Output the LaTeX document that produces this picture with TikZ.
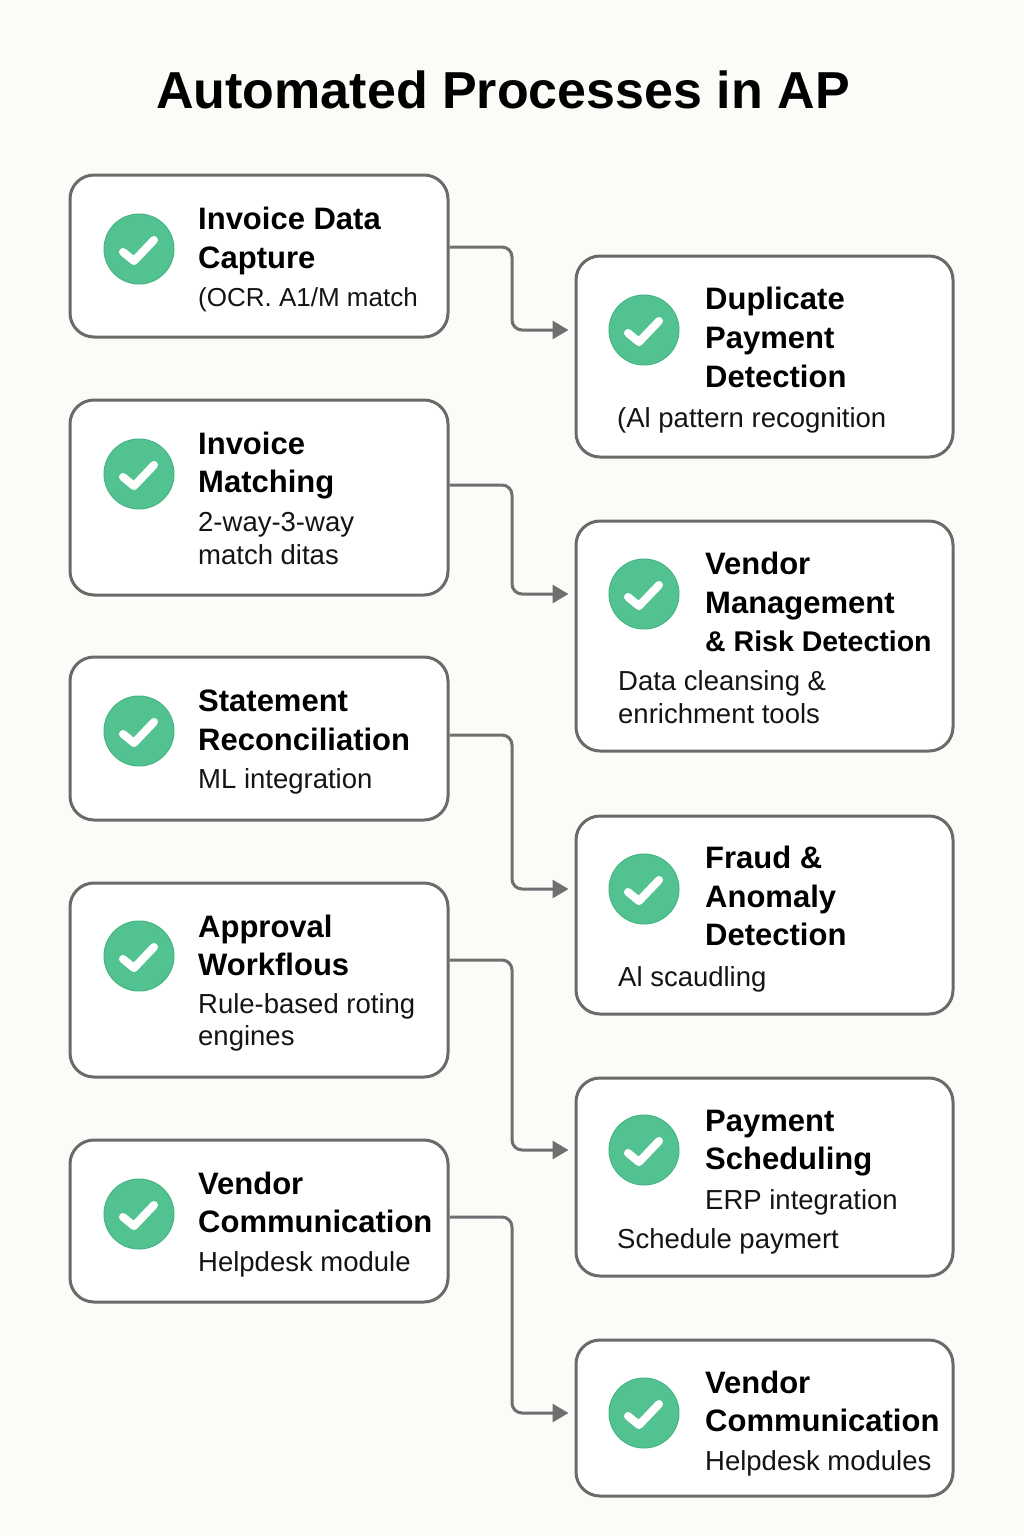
\documentclass[tikz,border=0pt]{standalone}
\usepackage{fontspec}
\setmainfont{Liberation Sans}
\usetikzlibrary{arrows.meta,calc}
\definecolor{bgc}{HTML}{FCFBF7}
\definecolor{boxline}{HTML}{6A6A6A}
\definecolor{connc}{HTML}{6E6F71}
\definecolor{chk}{HTML}{52C290}
\definecolor{chkb}{HTML}{45B583}
\tikzset{
  pbox/.style={draw=boxline, line width=3pt, fill=white, rounded corners=24pt, inner sep=0pt},
  chkc/.style={circle, fill=chk, draw=chkb, line width=1pt, minimum size=70pt, inner sep=0pt},
  ttl/.style={anchor=base west, inner sep=0pt, font=\bfseries\fontsize{31}{37}\selectfont, text=black},
  sub/.style={anchor=base west, inner sep=0pt, font=\fontsize{27.5}{32}\selectfont, text=black!92},
  conn/.style={draw=connc, line width=3pt, rounded corners=10pt, -{Triangle[length=16pt,width=18pt]}, shorten >=6pt},
}
\newcommand{\tick}[1]{\draw[white, line width=8pt, line cap=round, line join=round] ($(#1)+(-16pt,-3pt)$) -- ($(#1)+(-5pt,-12pt)$) -- ($(#1)+(15pt,9pt)$);}
\begin{document}
\begin{tikzpicture}[x=1pt,y=-1pt]
\fill[bgc] (0,0) rectangle (1024,1536);
\useasboundingbox (0,0) rectangle (1024,1536);

\node[anchor=base, inner sep=0pt, font=\bfseries\fontsize{52}{60}\selectfont] (title) at (503,109) {Automated Processes in AP};

% left boxes
\node[pbox, minimum width=378pt, minimum height=162pt] (L1) at (259,256) {};
\node[pbox, minimum width=378pt, minimum height=195pt] (L2) at (259,497.5) {};
\node[pbox, minimum width=378pt, minimum height=163pt] (L3) at (259,738.5) {};
\node[pbox, minimum width=378pt, minimum height=194pt] (L4) at (259,980) {};
\node[pbox, minimum width=378pt, minimum height=162pt] (L5) at (259,1221) {};
% right boxes
\node[pbox, minimum width=377pt, minimum height=201pt] (R1) at (764.5,356.5) {};
\node[pbox, minimum width=377pt, minimum height=230pt] (R2) at (764.5,636) {};
\node[pbox, minimum width=377pt, minimum height=198pt] (R3) at (764.5,915) {};
\node[pbox, minimum width=377pt, minimum height=198pt] (R4) at (764.5,1177) {};
\node[pbox, minimum width=377pt, minimum height=156pt] (R5) at (764.5,1418) {};

% check circles
\node[chkc] (cL1) at (139,249) {}; \tick{cL1}
\node[chkc] (cL2) at (139,474) {}; \tick{cL2}
\node[chkc] (cL3) at (139,731) {}; \tick{cL3}
\node[chkc] (cL4) at (139,956) {}; \tick{cL4}
\node[chkc] (cL5) at (139,1214) {}; \tick{cL5}
\node[chkc] (cR1) at (644,330) {}; \tick{cR1}
\node[chkc] (cR2) at (644,594) {}; \tick{cR2}
\node[chkc] (cR3) at (644,889) {}; \tick{cR3}
\node[chkc] (cR4) at (644,1150) {}; \tick{cR4}
\node[chkc] (cR5) at (644,1413) {}; \tick{cR5}

% left texts
\node[ttl] (tL1a) at (198,229) {Invoice Data};
\node[ttl] (tL1b) at (198,268) {Capture};
\node[sub, font=\fontsize{26}{32}\selectfont] (sL1a) at (198,306) {(OCR. A1/M match};

\node[ttl] (tL2a) at (198,454) {Invoice};
\node[ttl] (tL2b) at (198,492) {Matching};
\node[sub] (sL2a) at (198,531) {2-way-3-way};
\node[sub] (sL2b) at (198,564) {match ditas};

\node[ttl] (tL3a) at (198,711) {Statement};
\node[ttl] (tL3b) at (198,750) {Reconciliation};
\node[sub] (sL3a) at (198,788) {ML integration};

\node[ttl] (tL4a) at (198,937) {Approval};
\node[ttl] (tL4b) at (198,975) {Workflous};
\node[sub] (sL4a) at (198,1013) {Rule-based roting};
\node[sub] (sL4b) at (198,1045) {engines};

\node[ttl] (tL5a) at (198,1194) {Vendor};
\node[ttl] (tL5b) at (198,1232) {Communication};
\node[sub] (sL5a) at (198,1271) {Helpdesk module};

% right texts
\node[ttl] (tR1a) at (705,309) {Duplicate};
\node[ttl] (tR1b) at (705,348) {Payment};
\node[ttl] (tR1c) at (705,387) {Detection};
\node[sub] (sR1a) at (617,427) {(Al pattern recognition};

\node[ttl] (tR2a) at (705,574) {Vendor};
\node[ttl] (tR2b) at (705,613) {Management};
\node[ttl, font=\bfseries\fontsize{28.5}{37}\selectfont] (tR2c) at (705,651) {\& Risk Detection};
\node[sub] (sR2a) at (618,690) {Data cleansing \&};
\node[sub] (sR2b) at (618,723) {enrichment tools};

\node[ttl] (tR3a) at (705,868) {Fraud \&};
\node[ttl] (tR3b) at (705,907) {Anomaly};
\node[ttl] (tR3c) at (705,945) {Detection};
\node[sub] (sR3a) at (618,986) {Al scaudling};

\node[ttl] (tR4a) at (705,1131) {Payment};
\node[ttl] (tR4b) at (705,1169) {Scheduling};
\node[sub] (sR4a) at (705,1209) {ERP integration};
\node[sub] (sR4b) at (617,1248) {Schedule paymert};

\node[ttl] (tR5a) at (705,1393) {Vendor};
\node[ttl] (tR5b) at (705,1431) {Communication};
\node[sub] (sR5a) at (705,1470) {Helpdesk modules};

% connectors
\coordinate (xm) at (512,0);
\draw[conn] ([yshift=9pt]L1.east) -- ([yshift=9pt]L1.east -| xm) |- (R1.west |- cR1);
\draw[conn] ([yshift=12.5pt]L2.east) -- ([yshift=12.5pt]L2.east -| xm) |- (R2.west |- cR2);
\draw[conn] ([yshift=3.5pt]L3.east) -- ([yshift=3.5pt]L3.east -| xm) |- (R3.west |- cR3);
\draw[conn] ([yshift=20pt]L4.east) -- ([yshift=20pt]L4.east -| xm) |- (R4.west |- cR4);
\draw[conn] ([yshift=4pt]L5.east) -- ([yshift=4pt]L5.east -| xm) |- (R5.west |- cR5);
\end{tikzpicture}
\end{document}
